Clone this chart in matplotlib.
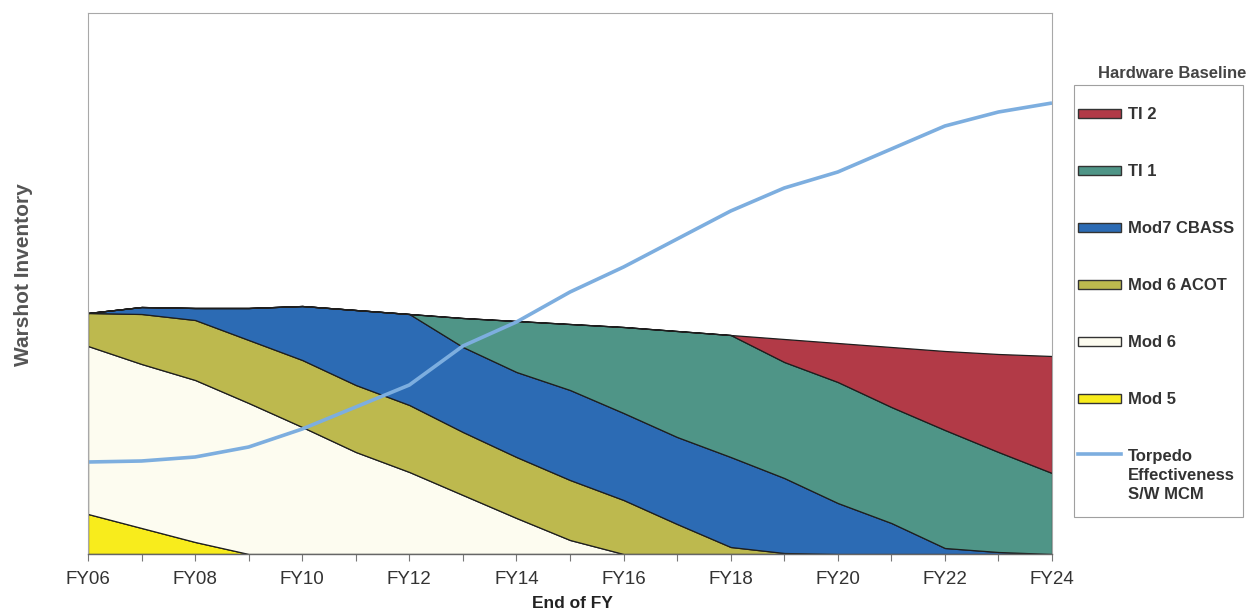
import numpy as np
import matplotlib
matplotlib.use("Agg")
import matplotlib.pyplot as plt
from matplotlib.patches import Patch, Rectangle
from matplotlib.lines import Line2D
from matplotlib.legend_handler import HandlerLine2D

plt.rcParams['font.family'] = ['Liberation Sans', 'DejaVu Sans']

# fiscal years and hardware baseline inventory (stacked, bottom to top)
years = np.arange(2006, 2025)
mod5 = [40, 26, 12, 0, 0, 0, 0, 0, 0, 0, 0, 0, 0, 0, 0, 0, 0, 0, 0]
mod6 = [168, 164, 162, 151, 127, 102, 82, 59, 36, 14, 0, 0, 0, 0, 0, 0, 0, 0, 0]
mod6_acot = [33, 50, 60, 63, 67, 67, 67, 63, 61, 60, 54, 30, 7, 1, 0, 0, 0, 0, 0]
mod7_cbass = [0, 7, 12, 32, 54, 75, 91, 85, 85, 90, 87, 87, 90, 75, 51, 31, 6, 2, 0]
ti1 = [0, 0, 0, 0, 0, 0, 0, 29, 51, 66, 86, 106, 122, 116, 121, 116, 118, 100, 81]
ti2 = [0, 0, 0, 0, 0, 0, 0, 0, 0, 0, 0, 0, 0, 23, 39, 60, 79, 98, 117]

# torpedo effectiveness against S/W MCM (same vertical scale)
effectiveness = [92, 93, 97, 107, 125, 147, 169, 208, 232, 262, 287, 315,
                 343, 366, 382, 405, 428, 442, 451]

layer_names = ['Mod 5', 'Mod 6', 'Mod 6 ACOT', 'Mod7 CBASS', 'TI 1', 'TI 2']
layer_colors = ['#F8EC1C', '#FDFCF0', '#BDB94E', '#2C6BB4', '#4F9587', '#B23A47']
line_color = '#7DAEDF'
tick_years = years[::2]
tick_labels = ['FY%02d' % (y % 100) for y in tick_years]

W, H = 1258, 613
fig = plt.figure(figsize=(W / 100, H / 100), dpi=100)
ax = fig.add_axes([88 / W, 59 / H, (1052 - 88) / W, (554 - 13) / H])

ax.stackplot(years, mod5, mod6, mod6_acot, mod7_cbass, ti1, ti2,
             colors=layer_colors, edgecolor='#1E1E1E', linewidth=0.9)
ax.plot(years, effectiveness, color=line_color, lw=2.6, solid_capstyle='butt')

ax.set_xlim(2006, 2024)
ax.set_ylim(0, 541)
ax.set_yticks([])
ax.set_xticks(years, minor=True)
ax.set_xticks(tick_years)
ax.set_xticklabels(tick_labels, fontsize=13.5, color='#333333')
ax.tick_params(axis='x', which='both', length=5, width=0.8, color='#777777',
               direction='out', pad=7)
for side in ['top', 'left', 'right']:
    ax.spines[side].set_color('#A8A8A8')
    ax.spines[side].set_linewidth(0.8)
ax.spines['bottom'].set_color('#666666')
ax.spines['bottom'].set_linewidth(1.0)

ax.set_xlabel('End of FY', fontsize=12.5, fontweight='bold', color='#222222')
ax.xaxis.set_label_coords(0.503, -0.078)
ax.set_ylabel('Warshot Inventory', fontsize=15, fontweight='bold', color='#555555')
ax.yaxis.set_label_coords(-0.057, 0.516)


class TopLineHandler(HandlerLine2D):
    # put the line next to the first row of a multi-line label
    def __init__(self, shift, **kw):
        super().__init__(**kw)
        self.shift = shift

    def create_artists(self, legend, orig_handle, xdescent, ydescent, width,
                       height, fontsize, trans):
        arts = super().create_artists(legend, orig_handle, xdescent, ydescent,
                                      width, height, fontsize, trans)
        for a in arts:
            if isinstance(a, Line2D):
                yd = np.asarray(a.get_ydata(), dtype=float)
                a.set_ydata(yd + self.shift)
        return arts


leg_fs = 12
leg_ls = 1.35
handles = [Patch(facecolor=c, edgecolor='#333333', linewidth=1.0)
           for c in layer_colors[::-1]]
labels = layer_names[::-1]
line_handle = Line2D([], [], color=line_color, lw=2.6)
handles.append(line_handle)
labels.append('Torpedo\nEffectiveness\nS/W MCM')

leg = fig.legend(handles, labels, loc='upper left',
                 bbox_to_anchor=(1078 / W, 1 - 107 / H),
                 frameon=False, prop={'size': leg_fs, 'weight': 'bold'},
                 handlelength=2.55, handleheight=0.45, handletextpad=0.45,
                 labelspacing=2.52, borderpad=0, borderaxespad=0,
                 handler_map={line_handle: TopLineHandler(leg_ls * leg_fs)})
for t in leg.get_texts():
    t.set_color('#333333')
    t.set_linespacing(leg_ls)

# legend box drawn on its own so the padding matches
fig.patches.append(Rectangle((1074 / W, 1 - 517 / H), (1243 - 1074) / W,
                             (517 - 85) / H, transform=fig.transFigure,
                             facecolor='none', edgecolor='#A0A0A0', lw=0.8))

fig.text(1172 / W, 1 - 73 / H, 'Hardware Baseline', ha='center', va='center',
         fontsize=12, fontweight='bold', color='#444444')

fig.savefig('out.png', dpi=100)
